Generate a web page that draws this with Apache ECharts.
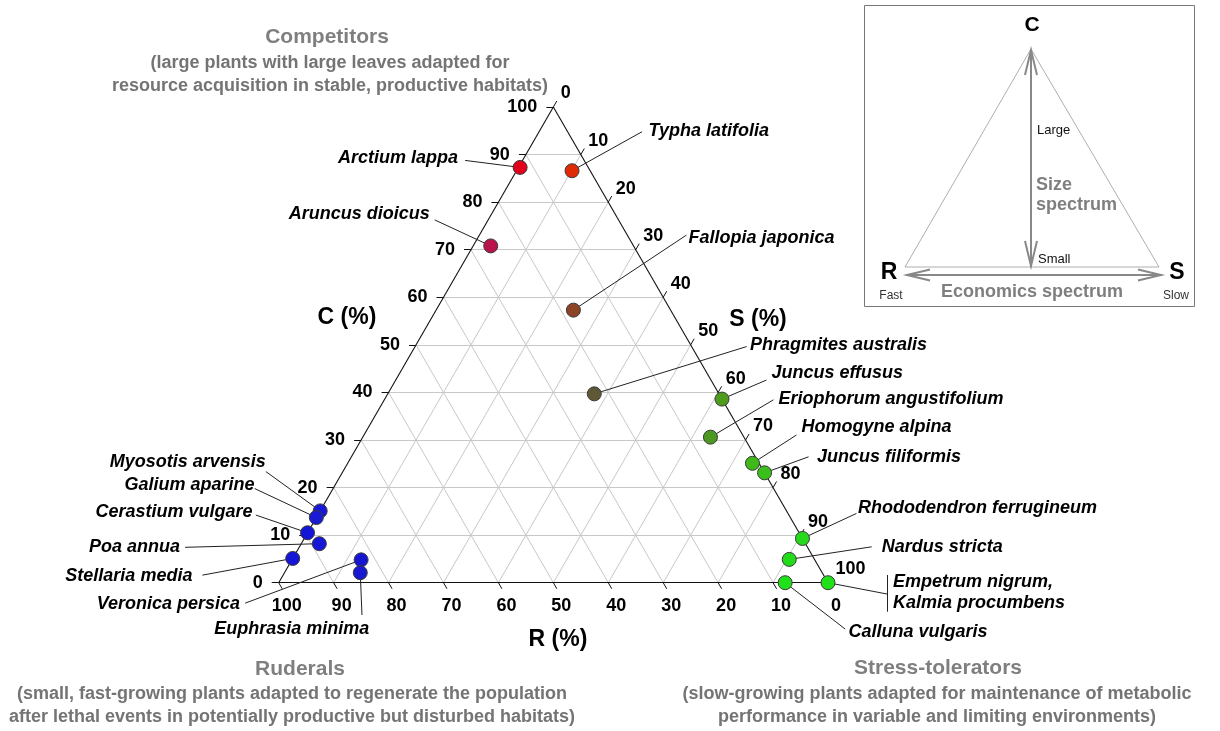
<!DOCTYPE html>
<html><head><meta charset="utf-8">
<script src="https://cdn.jsdelivr.net/npm/echarts@6/dist/echarts.min.js"></script>
<style>html,body{margin:0;padding:0;background:#fff}#chart{width:1220px;height:731px}</style>
</head><body><div id="chart"></div>
<script>
// ---------------- DATA ----------------
const species = [
  'Arctium lappa','Typha latifolia','Aruncus dioicus','Fallopia japonica','Phragmites australis',
  'Juncus effusus','Eriophorum angustifolium','Homogyne alpina','Juncus filiformis',
  'Rhododendron ferrugineum','Nardus stricta','Empetrum nigrum,\nKalmia procumbens','Calluna vulgaris',
  'Myosotis arvensis','Galium aparine','Cerastium vulgare','Poa annua','Stellaria media',
  'Veronica persica','Euphrasia minima'
];
const compC = [87.3, 86.6, 70.8, 57.3, 39.7, 38.6, 30.6, 25.1, 23.1, 9.3, 4.9, 0.0, 0.0, 15.1, 13.7, 10.5, 8.2, 5.1, 4.8, 2.1];
const compS = [0.3, 10.1, 3.2, 25.0, 37.6, 61.4, 63.3, 73.7, 76.9, 90.7, 90.5, 100.0, 92.2, 0.0, 0.0, 0.0, 3.3, 0.0, 12.6, 13.8];
const compR = [12.4, 3.3, 26.0, 17.7, 22.7, 0.0, 6.1, 1.2, 0.0, 0.0, 4.6, 0.0, 7.8, 84.9, 86.3, 89.5, 88.5, 94.9, 82.6, 84.1];
const tickValues = [0, 10, 20, 30, 40, 50, 60, 70, 80, 90, 100];

// ---------------- STYLE / LAYOUT ----------------
const pointColors = ['#e3001c','#e02a06','#b8134a','#8d4326','#5e5836','#4f9c1c','#4d9820','#3fb91a','#3bbf1b',
  '#26d91c','#22dc1a','#20e01a','#20e01a','#1818d6','#1a1ad2','#1515d8','#1717d6','#1515d8','#1616d2','#1818d0'];
// line: leader-line end offset from point (px); text: label anchor offset from line end (px)
const labelPlacement = [
  {line:[-55,-7], text:[-7,-2], align:'right'},
  {line:[70,-39], text:[6.6,-0.7], align:'left'},
  {line:[-56,-26], text:[-5,-6], align:'right'},
  {line:[113,-75], text:[2,3], align:'left'},
  {line:[152.4,-47.3], text:[3.3,-1.7], align:'left'},
  {line:[44.4,-19], text:[5,-7], align:'left'},
  {line:[63,-37.3], text:[5,-1], align:'left'},
  {line:[44,-28.3], text:[5,-8], align:'left'},
  {line:[44,-16], text:[8.4,0], align:'left'},
  {line:[54,-25], text:[1.6,-5.3], align:'left'},
  {line:[82.4,-12.6], text:[10,0], align:'left'},
  {line:[59,11.3], text:[6,-1], align:'left', bracket:[-19,17.7]},
  {line:[60,46.3], text:[3.3,2.7], align:'left'},
  {line:[-54.3,-39.3], text:[0,-9.2], align:'right'},
  {line:[-61.7,-29], text:[0,-3.3], align:'right'},
  {line:[-51.7,-17.7], text:[-3.3,-3.3], align:'right'},
  {line:[-134.3,3.6], text:[-5,-0.6], align:'right'},
  {line:[-90.3,16.7], text:[-10,1], align:'right'},
  {line:[-116,43.3], text:[-5,0.7], align:'right'},
  {line:[1.7,42.3], text:[7.3,14], align:'right'}
];

const FONT = '"Liberation Sans", Arial, Helvetica, sans-serif';
const H = Math.sqrt(3) / 2;
const GL = 278.7, GT = 107, GW = 549.3, GH = GW * H;
const K = GW / 100; // px per unit

function toXY(c, s, r) {
  const t = c + s + r;
  const cc = c / t * 100, ss = s / t * 100;
  return [ss + cc / 2, cc * H];
}
function off(p, dx, dy) { return [p[0] + dx / K, p[1] - dy / K]; }

// grid lines
const gridLines = [];
for (let v = 10; v <= 90; v += 10) {
  gridLines.push({coords: [[v / 2, v * H], [100 - v / 2, v * H]]});
  gridLines.push({coords: [[v, 0], [v + (100 - v) / 2, (100 - v) * H]]});
  gridLines.push({coords: [[100 - v, 0], [(100 - v) / 2, (100 - v) * H]]});
}
const edges = [
  {coords: [[0, 0], [100, 0]]},
  {coords: [[0, 0], [50, 100 * H]]},
  {coords: [[100, 0], [50, 100 * H]]}
];
const tl = 7 / K;
const ticks = [];
const tickLabels = [];
tickValues.forEach(v => {
  const pc = [v / 2, v * H];
  ticks.push({coords: [pc, [pc[0] - tl, pc[1]]]});
  tickLabels.push({value: pc, name: String(v), label: {position: [-16, 0], align: 'right'}});
  const ps = [50 + v / 2, (100 - v) * H];
  ticks.push({coords: [ps, [ps[0] + 0.5 * tl, ps[1] + H * tl]]});
  tickLabels.push({value: ps, name: String(v), label: {position: [7.5, -13.5], align: 'left'}});
  const pr = [100 - v, 0];
  ticks.push({coords: [pr, [pr[0] + 0.5 * tl, pr[1] - H * tl]]});
  tickLabels.push({value: pr, name: String(v), label: {position: [8, 23], align: 'center'}});
});

const points = [], leaders = [], nameLabels = [];
species.forEach((name, i) => {
  const p = toXY(compC[i], compS[i], compR[i]);
  points.push({value: p, name: name, itemStyle: {color: pointColors[i]}});
  const lp = labelPlacement[i];
  const end = off(p, lp.line[0], lp.line[1]);
  leaders.push({coords: [p, end]});
  if (lp.bracket) leaders.push({coords: [off(end, 0, lp.bracket[0]), off(end, 0, lp.bracket[1])]});
  nameLabels.push({value: off(end, lp.text[0], lp.text[1]), name: name, label: {align: lp.align}});
});

function gtext(x, y, text, font, fill, align) {
  return {type: 'text', x: x, y: y, silent: true, z: 100,
    style: {text: text, font: font, fill: fill, align: align || 'center', verticalAlign: 'middle',
      textAlign: align || 'center', textVerticalAlign: 'middle'}};
}
const titleGray = '#7f7f7f';
const subGray = '#747474';
const graphics = [
  gtext(327, 37, 'Competitors', 'bold 21px ' + FONT, titleGray),
  gtext(330, 63, '(large plants with large leaves adapted for', 'bold 18px ' + FONT, subGray),
  gtext(330, 86, 'resource acquisition in stable, productive habitats)', 'bold 18px ' + FONT, subGray),
  gtext(300, 669, 'Ruderals', 'bold 21px ' + FONT, titleGray),
  gtext(292, 694, '(small, fast-growing plants adapted to regenerate the population', 'bold 18px ' + FONT, subGray),
  gtext(292, 717, 'after lethal events in potentially productive but disturbed habitats)', 'bold 18px ' + FONT, subGray),
  gtext(938, 668, 'Stress-tolerators', 'bold 21px ' + FONT, titleGray),
  gtext(937, 694, '(slow-growing plants adapted for maintenance of metabolic', 'bold 18px ' + FONT, subGray),
  gtext(937, 717, 'performance in variable and limiting environments)', 'bold 18px ' + FONT, subGray),
  gtext(347, 318, 'C (%)', 'bold 23px ' + FONT, '#000'),
  gtext(758, 320, 'S (%)', 'bold 23px ' + FONT, '#000'),
  gtext(558, 640, 'R (%)', 'bold 23px ' + FONT, '#000'),
  // inset schematic
  {type: 'rect', z: 90, silent: true, shape: {x: 864.5, y: 5.5, width: 330, height: 301},
    style: {fill: '#fff', stroke: '#777', lineWidth: 1}},
  {type: 'polygon', z: 91, silent: true, shape: {points: [[1031, 49], [905, 267], [1159, 267]]},
    style: {fill: 'none', stroke: '#999', lineWidth: 0.8}},
  {type: 'line', z: 92, silent: true, shape: {x1: 1031, y1: 50, x2: 1031, y2: 267}, style: {stroke: '#888', lineWidth: 2}},
  {type: 'polyline', z: 92, silent: true, shape: {points: [[1025, 75], [1031, 50], [1037, 75]]}, style: {stroke: '#888', lineWidth: 2, fill: 'none'}},
  {type: 'polyline', z: 92, silent: true, shape: {points: [[1025, 241], [1031, 266], [1037, 241]]}, style: {stroke: '#888', lineWidth: 2, fill: 'none'}},
  {type: 'line', z: 92, silent: true, shape: {x1: 906, y1: 275, x2: 1162, y2: 275}, style: {stroke: '#888', lineWidth: 2}},
  {type: 'polyline', z: 92, silent: true, shape: {points: [[930, 269.5], [907, 275], [930, 280.5]]}, style: {stroke: '#888', lineWidth: 2, fill: 'none'}},
  {type: 'polyline', z: 92, silent: true, shape: {points: [[1138, 269.5], [1161, 275], [1138, 280.5]]}, style: {stroke: '#888', lineWidth: 2, fill: 'none'}},
  gtext(1032, 25, 'C', 'bold 21px ' + FONT, '#000'),
  gtext(889, 273, 'R', 'bold 23px ' + FONT, '#000'),
  gtext(1177, 273, 'S', 'bold 23px ' + FONT, '#000'),
  gtext(891, 296, 'Fast', '12px ' + FONT, '#333'),
  gtext(1176, 296, 'Slow', '12px ' + FONT, '#333'),
  gtext(1037, 130, 'Large', '13px ' + FONT, '#111', 'left'),
  gtext(1036, 185, 'Size', 'bold 18px ' + FONT, titleGray, 'left'),
  gtext(1036, 205, 'spectrum', 'bold 18px ' + FONT, titleGray, 'left'),
  gtext(1038, 259, 'Small', '13px ' + FONT, '#111', 'left'),
  gtext(1032, 292, 'Economics spectrum', 'bold 18px ' + FONT, titleGray)
];

const chart = echarts.init(document.getElementById('chart'), null, {renderer: 'canvas'});
chart.setOption({
  animation: false,
  backgroundColor: '#fff',
  grid: {left: GL, top: GT, width: GW, height: GH, containLabel: false},
  xAxis: {type: 'value', min: 0, max: 100, show: false},
  yAxis: {type: 'value', min: 0, max: 100 * H, show: false},
  graphic: graphics,
  series: [
    {type: 'lines', coordinateSystem: 'cartesian2d', silent: true, clip: false, z: 1, data: gridLines,
      lineStyle: {color: '#c8c8c8', width: 1, opacity: 1}},
    {type: 'lines', coordinateSystem: 'cartesian2d', silent: true, clip: false, z: 2, data: edges,
      lineStyle: {color: '#111', width: 1.1, opacity: 1}},
    {type: 'lines', coordinateSystem: 'cartesian2d', silent: true, clip: false, z: 2, data: ticks,
      lineStyle: {color: '#111', width: 1, opacity: 1}},
    {type: 'scatter', silent: true, clip: false, z: 3, symbolSize: 0.01, data: tickLabels,
      itemStyle: {color: '#000', opacity: 1},
      label: {show: true, formatter: p => p.name, verticalAlign: 'middle', color: '#000', opacity: 1,
        fontSize: 18, fontWeight: 'bold', fontFamily: FONT}},
    {type: 'lines', coordinateSystem: 'cartesian2d', silent: true, clip: false, z: 3, data: leaders,
      lineStyle: {color: '#222', width: 1, opacity: 1}},
    {type: 'scatter', silent: true, clip: false, z: 4, symbolSize: 0.01, data: nameLabels,
      itemStyle: {color: '#000', opacity: 1},
      label: {show: true, formatter: p => p.name, position: [0, 0], verticalAlign: 'middle', color: '#000', opacity: 1,
        fontSize: 18, fontWeight: 'bold', fontStyle: 'italic', fontFamily: FONT, lineHeight: 21}},
    {type: 'scatter', silent: true, clip: false, z: 5, symbol: 'circle', symbolSize: 14, data: points,
      itemStyle: {borderColor: '#3a3a3a', borderWidth: 1, opacity: 1}}
  ]
});
</script></body></html>
